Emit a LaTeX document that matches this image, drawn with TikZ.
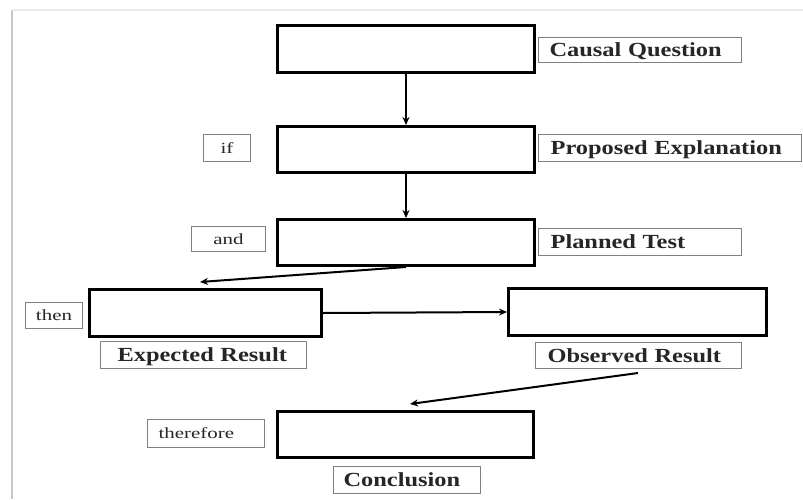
\documentclass[tikz,border=0pt]{standalone}
\usepackage{fontspec}
\setmainfont{Liberation Serif}
\newfontfamily\lblfont[FakeStretch=1.22]{Liberation Serif}
\newfontfamily\smfont[FakeStretch=1.35]{Liberation Serif}
\usetikzlibrary{arrows.meta}
\begin{document}
\begin{tikzpicture}[x=1pt,y=-1pt,
  bigbox/.style={draw=black, line width=3pt, inner sep=0pt},
  lbl/.style={draw=black!50, line width=1.2pt, inner ysep=0pt, align=left,
    text height=13.5pt, text depth=0pt,
    text=black!85, font=\lblfont\bfseries\fontsize{20}{22}\selectfont},
  sm/.style={draw=black!50, line width=1.2pt, inner sep=0pt,
    text height=10.5pt, text depth=0pt,
    text=black!85, font=\smfont\fontsize{15.5}{17}\selectfont},
  arr/.style={draw=black, line width=2pt, -{Stealth[length=8pt,width=7pt]}}]
\useasboundingbox[fill=white] (0,0) rectangle (803,499);
% outer frame
\draw[black!22, line width=2pt] (12,499) -- (12,10);
\draw[black!8, line width=1.5pt] (12,10) -- (803,10);
% main boxes
\node[bigbox, minimum width=257pt, minimum height=47pt] (b1) at (406,49) {};
\node[bigbox, minimum width=257pt, minimum height=46pt] (b2) at (406,149.5) {};
\node[bigbox, minimum width=257pt, minimum height=46pt] (b3) at (406,242.5) {};
\node[bigbox, minimum width=232pt, minimum height=47pt] (b4) at (205.5,313) {};
\node[bigbox, minimum width=258pt, minimum height=47pt] (b5) at (637.5,312) {};
\node[bigbox, minimum width=256pt, minimum height=46pt] (b6) at (405.5,434.5) {};
% bold labels
\node[lbl, inner xsep=11pt, text width=180.8pt, minimum height=24.8pt] (cq) at (640,50) {Causal Question};
\node[lbl, inner xsep=12pt, text width=238.8pt, minimum height=26.8pt] (pe) at (670,148) {Proposed Explanation};
\node[lbl, inner xsep=12pt, text width=178.8pt, minimum height=26.8pt] (pt) at (640,242) {Planned Test};
\node[lbl, inner xsep=17pt, text width=171.8pt, minimum height=26.8pt] (er) at (203.5,355) {Expected Result};
\node[lbl, inner xsep=12pt, text width=181.8pt, minimum height=25.8pt] (or) at (638.5,355.5) {Observed Result};
\node[lbl, inner xsep=10pt, text width=126.8pt, minimum height=26.8pt] (cc) at (407,480) {Conclusion};
% small labels
\node[sm, minimum width=46.8pt, minimum height=26.8pt] (if) at (227,148) {if};
\node[sm, minimum width=73.8pt, minimum height=24.8pt] (and) at (228.5,239) {and};
\node[sm, minimum width=56.8pt, minimum height=25.8pt] (then) at (54,315.5) {then};
\node[sm, inner xsep=11pt, text width=94.8pt, align=left, minimum height=27.8pt] (tf) at (206,433.5) {therefore};
% connectors
\coordinate (e4) at (200,282);
\coordinate (s6) at (638,373);
\coordinate (e6) at (410,404);
\draw[arr] (b1.south) -- (b2.north);
\draw[arr] (b2.south) -- (b3.north);
\draw[arr] (b3.south) -- (e4);
\draw[arr] (b4.east) -- (b5.west);
\draw[arr] (s6) -- (e6);
\end{tikzpicture}
\end{document}
